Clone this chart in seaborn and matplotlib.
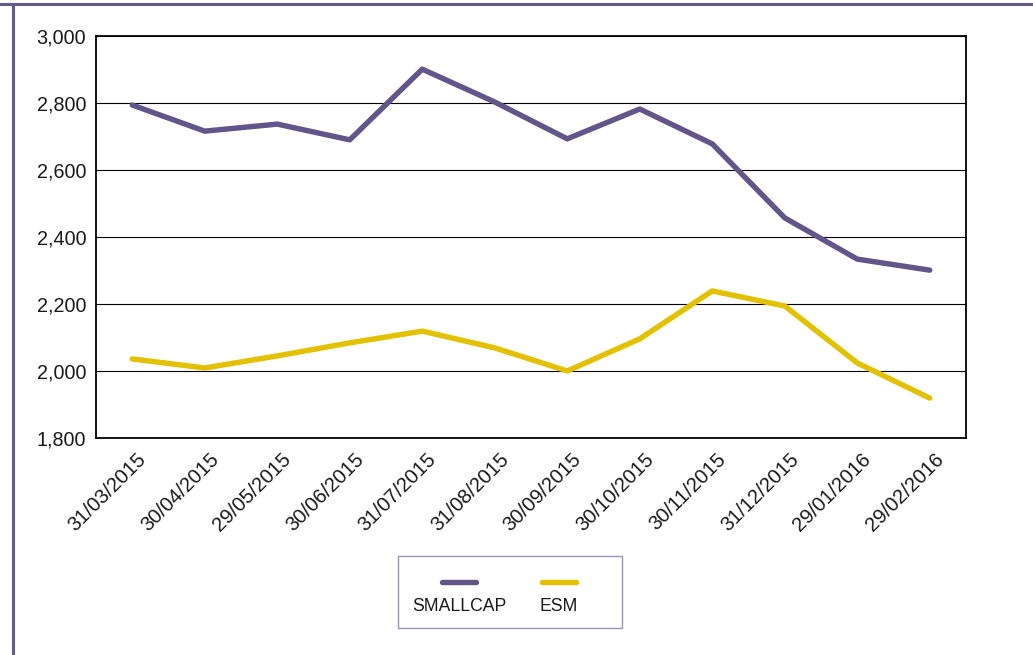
import pandas as pd
import matplotlib
matplotlib.use("Agg")
import matplotlib.pyplot as plt
import seaborn as sns
from matplotlib.lines import Line2D
from matplotlib.patches import Rectangle
from matplotlib.offsetbox import VPacker
from matplotlib.transforms import ScaledTranslation

# data
dates = ["31/03/2015", "30/04/2015", "29/05/2015", "30/06/2015", "31/07/2015", "31/08/2015",
         "30/09/2015", "30/10/2015", "30/11/2015", "31/12/2015", "29/01/2016", "29/02/2016"]
smallcap = [2794, 2716, 2737, 2690, 2901, 2803, 2693, 2782, 2678, 2457, 2334, 2301]
esm = [2036, 2009, 2045, 2084, 2119, 2069, 2000, 2096, 2239, 2194, 2024, 1919]
series_names = ["SMALLCAP", "ESM"]
colors = {"SMALLCAP": "#615589", "ESM": "#e3c000"}
y_ticks = [1800, 2000, 2200, 2400, 2600, 2800, 3000]

df = pd.concat([
    pd.DataFrame({"date": dates, "value": smallcap, "series": "SMALLCAP"}),
    pd.DataFrame({"date": dates, "value": esm, "series": "ESM"}),
], ignore_index=True)

sns.set_style("white")
plt.rcParams["font.family"] = ["Liberation Sans", "DejaVu Sans"]

fig = plt.figure(figsize=(10.33, 6.55), dpi=100)
ax = fig.add_axes([96 / 1033, 1 - 438 / 655, 870 / 1033, 402 / 655])

sns.lineplot(data=df, x="date", y="value", hue="series", palette=colors,
             hue_order=series_names, linewidth=3.9, sort=False, legend=False, ax=ax)
for line in ax.lines:
    line.set_solid_capstyle("round")

ax.set_xlim(-0.5, len(dates) - 0.5)
ax.set_ylim(1800, 3000)
ax.set_yticks(y_ticks)
ax.set_yticklabels([f"{v:,}" for v in y_ticks])
ax.yaxis.grid(True, color="black", linewidth=0.8)
ax.set_axisbelow(True)
ax.set_xlabel("")
ax.set_ylabel("")
for sp in ax.spines.values():
    sp.set_color("black")
    sp.set_linewidth(1.3)

ax.tick_params(axis="y", length=0, pad=7, labelsize=14.2, labelcolor="#1a1a1a")
ax.tick_params(axis="x", length=0, pad=13.5, labelsize=14.6, labelcolor="#1a1a1a")
shift = ScaledTranslation(0.11, 0, fig.dpi_scale_trans)
for lab in ax.get_xticklabels():
    lab.set_rotation(45)
    lab.set_ha("right")
    lab.set_va("center")
    lab.set_rotation_mode("anchor")
    lab.set_transform(lab.get_transform() + shift)

# legend: handle sits above its label, box drawn separately
handles = [Line2D([], [], color=colors[n], linewidth=3.9, solid_capstyle="round") for n in series_names]
leg = fig.legend(handles, series_names, loc="center", bbox_to_anchor=(495 / 1033, 1 - 595 / 655),
                 ncol=2, frameon=False, fontsize=12.7, handlelength=1.9, handletextpad=0.55,
                 columnspacing=1.9, borderpad=0)
for col in leg._legend_handle_box.get_children():
    for item in col.get_children():
        item.__class__ = VPacker
        item.align = "center"
for t in leg.get_texts():
    t.set_color("#1a1a1a")

fig.patches.append(Rectangle((398 / 1033, 1 - 628 / 655), 224 / 1033, 72 / 655,
                             transform=fig.transFigure, fill=False,
                             edgecolor="#9a92ba", linewidth=1.0))

# outer frame (top and left edges)
frame_col = "#655a8c"
fig.add_artist(Line2D([0, 1], [1 - 4 / 655, 1 - 4 / 655], transform=fig.transFigure,
                      color=frame_col, linewidth=2.2))
fig.add_artist(Line2D([12.5 / 1033, 12.5 / 1033], [0, 1 - 4 / 655], transform=fig.transFigure,
                      color=frame_col, linewidth=2.2))

fig.savefig("out.png", dpi=100)
